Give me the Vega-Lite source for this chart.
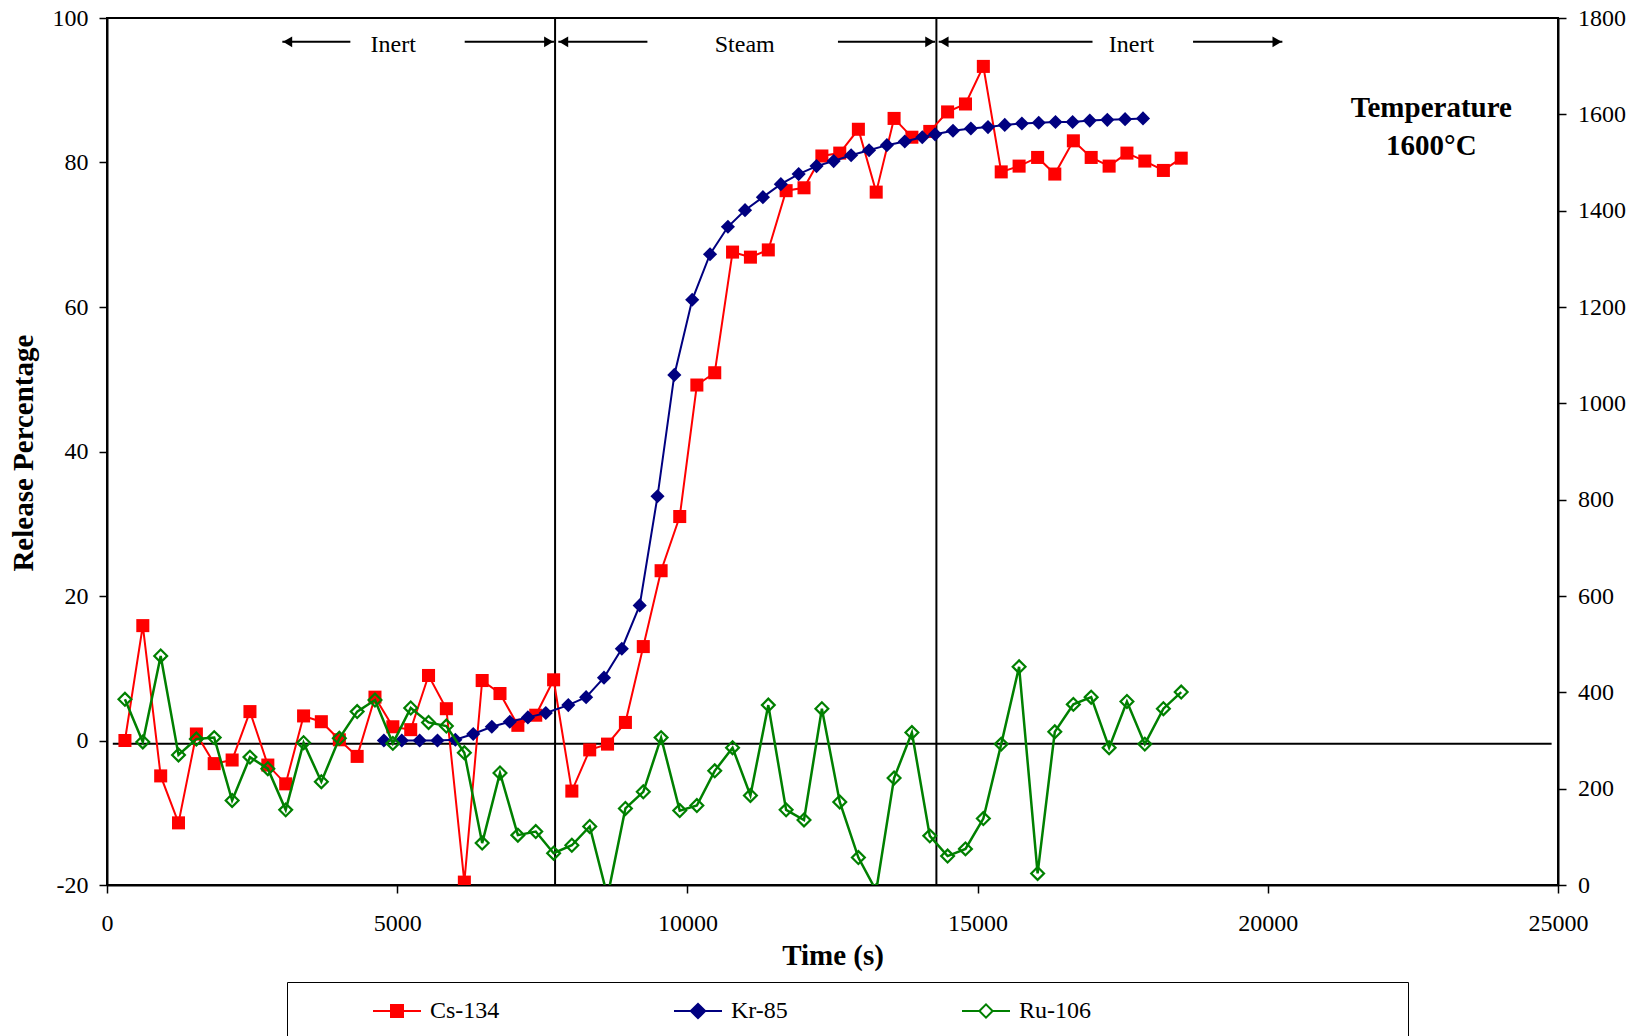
{
  "$schema": "https://vega.github.io/schema/vega-lite/v6.json",
  "width": 1451,
  "height": 867,
  "autosize": {"type": "none"},
  "padding": {"left": 107, "top": 18, "right": 82, "bottom": 151},
  "background": "#FFFFFF",
  "config": {
    "view": {"stroke": "#000000", "strokeWidth": 2},
    "font": "Liberation Serif",
    "axis": {"labelFont": "Liberation Serif", "labelFontSize": 24, "labelColor": "#000000", "titleFont": "Liberation Serif", "titleFontSize": 29, "titleFontWeight": "bold", "titleColor": "#000000", "domainColor": "#000000", "domainWidth": 2, "tickColor": "#000000", "tickWidth": 1.5, "tickSize": 8, "grid": false, "labelFlush": false, "labelOverlap": false, "labelExpr": "'' + datum.value"},
    "legend": {"orient": "none", "legendX": 180, "legendY": 964, "direction": "horizontal", "titleOrient": "left", "titlePadding": 64, "titleFontSize": 24, "padding": 17, "strokeColor": "#000000", "fillColor": "#FFFFFF", "symbolSize": 144, "symbolStrokeWidth": 2, "symbolOffset": 17, "labelOffset": 21, "columnPadding": 169, "labelFont": "Liberation Serif", "labelFontSize": 24, "labelColor": "#000000", "labelLimit": 2000}
  },
  "datasets": {
    "cs": [
      {"t": 309, "v": 0.0}, {"t": 617, "v": 15.9}, {"t": 925, "v": -4.9}, {"t": 1232, "v": -11.4}, {"t": 1540, "v": 0.9},
      {"t": 1847, "v": -3.2}, {"t": 2156, "v": -2.7}, {"t": 2463, "v": 4.0}, {"t": 2771, "v": -3.4}, {"t": 3079, "v": -6.0},
      {"t": 3387, "v": 3.4}, {"t": 3693, "v": 2.6}, {"t": 4003, "v": 0.1}, {"t": 4310, "v": -2.2}, {"t": 4617, "v": 6.0},
      {"t": 4925, "v": 1.9}, {"t": 5233, "v": 1.5}, {"t": 5540, "v": 9.0}, {"t": 5847, "v": 4.4}, {"t": 6157, "v": -19.6},
      {"t": 6464, "v": 8.3}, {"t": 6771, "v": 6.5}, {"t": 7079, "v": 2.1}, {"t": 7387, "v": 3.5}, {"t": 7695, "v": 8.4},
      {"t": 8009, "v": -7.0}, {"t": 8317, "v": -1.3}, {"t": 8624, "v": -0.5}, {"t": 8932, "v": 2.5}, {"t": 9240, "v": 13.0},
      {"t": 9547, "v": 23.5}, {"t": 9868, "v": 31.0}, {"t": 10163, "v": 49.2}, {"t": 10471, "v": 50.9}, {"t": 10778, "v": 67.6},
      {"t": 11086, "v": 66.9}, {"t": 11394, "v": 67.9}, {"t": 11701, "v": 76.1}, {"t": 12009, "v": 76.5}, {"t": 12317, "v": 80.9},
      {"t": 12625, "v": 81.3}, {"t": 12946, "v": 84.6}, {"t": 13253, "v": 75.9}, {"t": 13561, "v": 86.1}, {"t": 13868, "v": 83.5},
      {"t": 14176, "v": 84.3}, {"t": 14483, "v": 87.0}, {"t": 14791, "v": 88.1}, {"t": 15099, "v": 93.3}, {"t": 15407, "v": 78.7},
      {"t": 15715, "v": 79.5}, {"t": 16034, "v": 80.7}, {"t": 16330, "v": 78.4}, {"t": 16650, "v": 83.0}, {"t": 16957, "v": 80.7},
      {"t": 17266, "v": 79.5}, {"t": 17573, "v": 81.3}, {"t": 17881, "v": 80.2}, {"t": 18201, "v": 78.9}, {"t": 18508, "v": 80.6}
    ],
    "kr": [
      {"t": 4771, "v": 0.0}, {"t": 5079, "v": 0.0}, {"t": 5387, "v": 0.0}, {"t": 5694, "v": 0.0}, {"t": 6002, "v": 0.1},
      {"t": 6310, "v": 0.9}, {"t": 6630, "v": 1.9}, {"t": 6940, "v": 2.6}, {"t": 7252, "v": 3.2}, {"t": 7560, "v": 3.8},
      {"t": 7948, "v": 4.9}, {"t": 8255, "v": 6.0}, {"t": 8563, "v": 8.7}, {"t": 8870, "v": 12.7}, {"t": 9178, "v": 18.7},
      {"t": 9485, "v": 33.8}, {"t": 9775, "v": 50.6}, {"t": 10083, "v": 61.0}, {"t": 10390, "v": 67.3}, {"t": 10698, "v": 71.1},
      {"t": 10993, "v": 73.4}, {"t": 11301, "v": 75.2}, {"t": 11610, "v": 77.0}, {"t": 11917, "v": 78.4}, {"t": 12225, "v": 79.5},
      {"t": 12520, "v": 80.2}, {"t": 12821, "v": 81.0}, {"t": 13130, "v": 81.7}, {"t": 13437, "v": 82.4}, {"t": 13745, "v": 82.9},
      {"t": 14047, "v": 83.5}, {"t": 14268, "v": 83.9}, {"t": 14576, "v": 84.4}, {"t": 14884, "v": 84.7}, {"t": 15179, "v": 84.9},
      {"t": 15468, "v": 85.2}, {"t": 15763, "v": 85.4}, {"t": 16053, "v": 85.5}, {"t": 16342, "v": 85.6}, {"t": 16637, "v": 85.6},
      {"t": 16933, "v": 85.8}, {"t": 17235, "v": 85.9}, {"t": 17541, "v": 86.0}, {"t": 17850, "v": 86.1}
    ],
    "ru": [
      {"t": 309, "v": 5.7}, {"t": 617, "v": -0.2}, {"t": 925, "v": 11.7}, {"t": 1232, "v": -2.0}, {"t": 1540, "v": 0.2},
      {"t": 1847, "v": 0.4}, {"t": 2156, "v": -8.3}, {"t": 2463, "v": -2.3}, {"t": 2771, "v": -3.9}, {"t": 3079, "v": -9.6},
      {"t": 3387, "v": -0.3}, {"t": 3693, "v": -5.7}, {"t": 4003, "v": 0.3}, {"t": 4310, "v": 4.0}, {"t": 4617, "v": 5.6},
      {"t": 4925, "v": -0.4}, {"t": 5233, "v": 4.5}, {"t": 5540, "v": 2.5}, {"t": 5847, "v": 2.0}, {"t": 6157, "v": -1.7},
      {"t": 6464, "v": -14.2}, {"t": 6771, "v": -4.5}, {"t": 7079, "v": -13.1}, {"t": 7387, "v": -12.6}, {"t": 7695, "v": -15.6},
      {"t": 8009, "v": -14.5}, {"t": 8317, "v": -11.9}, {"t": 8624, "v": -21.6}, {"t": 8932, "v": -9.4}, {"t": 9240, "v": -7.1},
      {"t": 9547, "v": 0.4}, {"t": 9868, "v": -9.7}, {"t": 10163, "v": -9.0}, {"t": 10471, "v": -4.2}, {"t": 10778, "v": -1.0},
      {"t": 11086, "v": -7.6}, {"t": 11394, "v": 4.9}, {"t": 11701, "v": -9.6}, {"t": 12009, "v": -11.0}, {"t": 12317, "v": 4.4},
      {"t": 12625, "v": -8.5}, {"t": 12946, "v": -16.2}, {"t": 13253, "v": -20.8}, {"t": 13561, "v": -5.2}, {"t": 13868, "v": 1.1},
      {"t": 14176, "v": -13.2}, {"t": 14483, "v": -16.0}, {"t": 14791, "v": -15.0}, {"t": 15099, "v": -10.8}, {"t": 15407, "v": -0.5},
      {"t": 15715, "v": 10.2}, {"t": 16034, "v": -18.4}, {"t": 16330, "v": 1.2}, {"t": 16650, "v": 5.0}, {"t": 16957, "v": 6.0},
      {"t": 17266, "v": -1.0}, {"t": 17573, "v": 5.4}, {"t": 17881, "v": -0.5}, {"t": 18201, "v": 4.4}, {"t": 18508, "v": 6.7}
    ],
    "vlines": [{"t": 7720}, {"t": 14290}],
    "hline": [{"t": 100, "t2": 24890, "v": -0.45}],
    "arrows": [
      {"t": 3021, "t2": 4193, "v": 96.7}, {"t": 6163, "t2": 7701, "v": 96.7},
      {"t": 7776, "t2": 9311, "v": 96.7}, {"t": 12594, "t2": 14268, "v": 96.7},
      {"t": 14330, "t2": 16980, "v": 96.7}, {"t": 18712, "t2": 20251, "v": 96.7}
    ],
    "headsLeft": [{"t": 3112, "v": 96.7}, {"t": 7867, "v": 96.7}, {"t": 14421, "v": 96.7}],
    "headsRight": [{"t": 7610, "v": 96.7}, {"t": 14177, "v": 96.7}, {"t": 20160, "v": 96.7}],
    "phases": [{"t": 4932, "v": 96.3, "label": "Inert"}, {"t": 10988, "v": 96.3, "label": "Steam"}, {"t": 17652, "v": 96.3, "label": "Inert"}],
    "temp": [{"t": 22818, "v": 87.6, "label": "Temperature"}, {"t": 22818, "v": 82.35, "label": "1600°C"}],
    "series": [{"series": "Cs-134"}, {"series": "Kr-85"}, {"series": "Ru-106"}]
  },
  "resolve": {"scale": {"y": "independent"}},
  "layer": [
    {
      "layer": [
        {
          "data": {"name": "vlines"},
          "mark": {"type": "rule", "color": "#000000", "strokeWidth": 2},
          "encoding": {
            "x": {"field": "t", "type": "quantitative", "scale": {"domain": [0, 25000], "nice": false},
              "axis": {"values": [0, 5000, 10000, 15000, 20000, 25000], "title": "Time (s)", "labelPadding": 18, "titleY": 70, "titleBaseline": "middle"}}
          }
        },
        {
          "data": {"name": "hline"},
          "mark": {"type": "rule", "color": "#000000", "strokeWidth": 2},
          "encoding": {
            "x": {"field": "t", "type": "quantitative", "scale": {"domain": [0, 25000], "nice": false}},
            "x2": {"field": "t2"},
            "y": {"field": "v", "type": "quantitative", "scale": {"domain": [-20, 100], "nice": false},
              "axis": {"values": [-20, 0, 20, 40, 60, 80, 100], "title": "Release Percentage", "labelPadding": 11, "titleX": -84, "titleY": 434.6, "titleAngle": 270, "titleAlign": "center", "titleBaseline": "middle"}}
          }
        },
        {
          "data": {"name": "cs"},
          "mark": {"type": "line", "color": "#FF0000", "strokeWidth": 2, "clip": true},
          "encoding": {
            "x": {"field": "t", "type": "quantitative", "scale": {"domain": [0, 25000], "nice": false}},
            "y": {"field": "v", "type": "quantitative", "scale": {"domain": [-20, 100], "nice": false}}
          }
        },
        {
          "data": {"name": "cs"},
          "mark": {"type": "point", "shape": "square", "filled": true, "size": 170, "color": "#FF0000", "opacity": 1, "clip": true},
          "encoding": {
            "x": {"field": "t", "type": "quantitative", "scale": {"domain": [0, 25000], "nice": false}},
            "y": {"field": "v", "type": "quantitative", "scale": {"domain": [-20, 100], "nice": false}}
          }
        },
        {
          "data": {"name": "kr"},
          "mark": {"type": "line", "color": "#000080", "strokeWidth": 2, "clip": true},
          "encoding": {
            "x": {"field": "t", "type": "quantitative", "scale": {"domain": [0, 25000], "nice": false}},
            "y": {"field": "v", "type": "quantitative", "scale": {"domain": [-20, 100], "nice": false}}
          }
        },
        {
          "data": {"name": "kr"},
          "mark": {"type": "point", "shape": "diamond", "filled": true, "size": 200, "color": "#000080", "opacity": 1, "clip": true},
          "encoding": {
            "x": {"field": "t", "type": "quantitative", "scale": {"domain": [0, 25000], "nice": false}},
            "y": {"field": "v", "type": "quantitative", "scale": {"domain": [-20, 100], "nice": false}}
          }
        },
        {
          "data": {"name": "ru"},
          "mark": {"type": "line", "color": "#008000", "strokeWidth": 2.5, "clip": true},
          "encoding": {
            "x": {"field": "t", "type": "quantitative", "scale": {"domain": [0, 25000], "nice": false}},
            "y": {"field": "v", "type": "quantitative", "scale": {"domain": [-20, 100], "nice": false}}
          }
        },
        {
          "data": {"name": "ru"},
          "mark": {"type": "point", "shape": "diamond", "filled": false, "size": 165, "stroke": "#008000", "strokeWidth": 2.2, "opacity": 1, "clip": true},
          "encoding": {
            "x": {"field": "t", "type": "quantitative", "scale": {"domain": [0, 25000], "nice": false}},
            "y": {"field": "v", "type": "quantitative", "scale": {"domain": [-20, 100], "nice": false}}
          }
        },
        {
          "data": {"name": "arrows"},
          "mark": {"type": "rule", "color": "#000000", "strokeWidth": 2},
          "encoding": {
            "x": {"field": "t", "type": "quantitative", "scale": {"domain": [0, 25000], "nice": false}},
            "x2": {"field": "t2"},
            "y": {"field": "v", "type": "quantitative", "scale": {"domain": [-20, 100], "nice": false}}
          }
        },
        {
          "data": {"name": "headsLeft"},
          "mark": {"type": "point", "shape": "triangle-left", "filled": true, "size": 112, "color": "#000000", "opacity": 1},
          "encoding": {
            "x": {"field": "t", "type": "quantitative", "scale": {"domain": [0, 25000], "nice": false}},
            "y": {"field": "v", "type": "quantitative", "scale": {"domain": [-20, 100], "nice": false}}
          }
        },
        {
          "data": {"name": "headsRight"},
          "mark": {"type": "point", "shape": "triangle-right", "filled": true, "size": 112, "color": "#000000", "opacity": 1},
          "encoding": {
            "x": {"field": "t", "type": "quantitative", "scale": {"domain": [0, 25000], "nice": false}},
            "y": {"field": "v", "type": "quantitative", "scale": {"domain": [-20, 100], "nice": false}}
          }
        },
        {
          "data": {"name": "phases"},
          "mark": {"type": "text", "font": "Liberation Serif", "fontSize": 24, "color": "#000000", "align": "center", "baseline": "middle"},
          "encoding": {
            "x": {"field": "t", "type": "quantitative", "scale": {"domain": [0, 25000], "nice": false}},
            "y": {"field": "v", "type": "quantitative", "scale": {"domain": [-20, 100], "nice": false}},
            "text": {"field": "label", "type": "nominal"}
          }
        },
        {
          "data": {"name": "temp"},
          "mark": {"type": "text", "font": "Liberation Serif", "fontSize": 29, "fontWeight": "bold", "color": "#000000", "align": "center", "baseline": "middle"},
          "encoding": {
            "x": {"field": "t", "type": "quantitative", "scale": {"domain": [0, 25000], "nice": false}},
            "y": {"field": "v", "type": "quantitative", "scale": {"domain": [-20, 100], "nice": false}},
            "text": {"field": "label", "type": "nominal"}
          }
        },
        {
          "data": {"name": "series"},
          "mark": {"type": "point", "size": 144, "strokeWidth": 2, "opacity": 1, "clip": true},
          "encoding": {
            "x": {"datum": -5000, "type": "quantitative", "scale": {"domain": [0, 25000], "nice": false}},
            "y": {"datum": 0, "type": "quantitative", "scale": {"domain": [-20, 100], "nice": false}},
            "shape": {"field": "series", "type": "nominal", "title": " ",
              "scale": {"domain": ["Cs-134", "Kr-85", "Ru-106"], "range": ["M-4,0H4M-1,-1H1V1H-1Z", "M-4,0H4M-1.2,0L0,-1.2L1.2,0L0,1.2Z", "M-4,0H-1.1M1.1,0H4M-1.1,0L0,-1.1L1.1,0L0,1.1Z"]},
              "legend": {"labelExpr": "datum.label == 'Ru-106' ? 'Ru-106\u00a0\u00a0\u00a0\u00a0\u00a0\u00a0\u00a0\u00a0\u00a0\u00a0\u00a0\u00a0\u00a0\u00a0\u00a0\u00a0\u00a0\u00a0\u00a0\u00a0\u00a0\u00a0\u00a0\u00a0\u00a0\u00a0\u00a0\u00a0\u00a0\u00a0\u00a0\u00a0\u00a0\u00a0\u00a0\u00a0\u00a0\u00a0\u00a0\u00a0\u00a0\u00a0\u00a0\u00a0\u00a0\u00a0\u00a0\u00a0\u00a0\u00a0\u200b' : datum.label"}},
            "stroke": {"field": "series", "type": "nominal", "title": " ",
              "scale": {"domain": ["Cs-134", "Kr-85", "Ru-106"], "range": ["#FF0000", "#000080", "#008000"]},
              "legend": {"labelExpr": "datum.label == 'Ru-106' ? 'Ru-106\u00a0\u00a0\u00a0\u00a0\u00a0\u00a0\u00a0\u00a0\u00a0\u00a0\u00a0\u00a0\u00a0\u00a0\u00a0\u00a0\u00a0\u00a0\u00a0\u00a0\u00a0\u00a0\u00a0\u00a0\u00a0\u00a0\u00a0\u00a0\u00a0\u00a0\u00a0\u00a0\u00a0\u00a0\u00a0\u00a0\u00a0\u00a0\u00a0\u00a0\u00a0\u00a0\u00a0\u00a0\u00a0\u00a0\u00a0\u00a0\u00a0\u00a0\u200b' : datum.label"}},
            "fill": {"field": "series", "type": "nominal", "title": " ",
              "scale": {"domain": ["Cs-134", "Kr-85", "Ru-106"], "range": ["#FF0000", "#000080", "#FFFFFF"]},
              "legend": {"labelExpr": "datum.label == 'Ru-106' ? 'Ru-106\u00a0\u00a0\u00a0\u00a0\u00a0\u00a0\u00a0\u00a0\u00a0\u00a0\u00a0\u00a0\u00a0\u00a0\u00a0\u00a0\u00a0\u00a0\u00a0\u00a0\u00a0\u00a0\u00a0\u00a0\u00a0\u00a0\u00a0\u00a0\u00a0\u00a0\u00a0\u00a0\u00a0\u00a0\u00a0\u00a0\u00a0\u00a0\u00a0\u00a0\u00a0\u00a0\u00a0\u00a0\u00a0\u00a0\u00a0\u00a0\u00a0\u00a0\u200b' : datum.label"}}
          }
        }
      ]
    },
    {
      "data": {"values": [{"temp": 0}, {"temp": 1800}]},
      "mark": {"type": "point", "opacity": 0},
      "encoding": {
        "y": {"field": "temp", "type": "quantitative", "scale": {"domain": [0, 1800], "nice": false},
          "axis": {"orient": "right", "values": [0, 200, 400, 600, 800, 1000, 1200, 1400, 1600, 1800], "title": null, "labelPadding": 11.5}}
      }
    }
  ]
}
